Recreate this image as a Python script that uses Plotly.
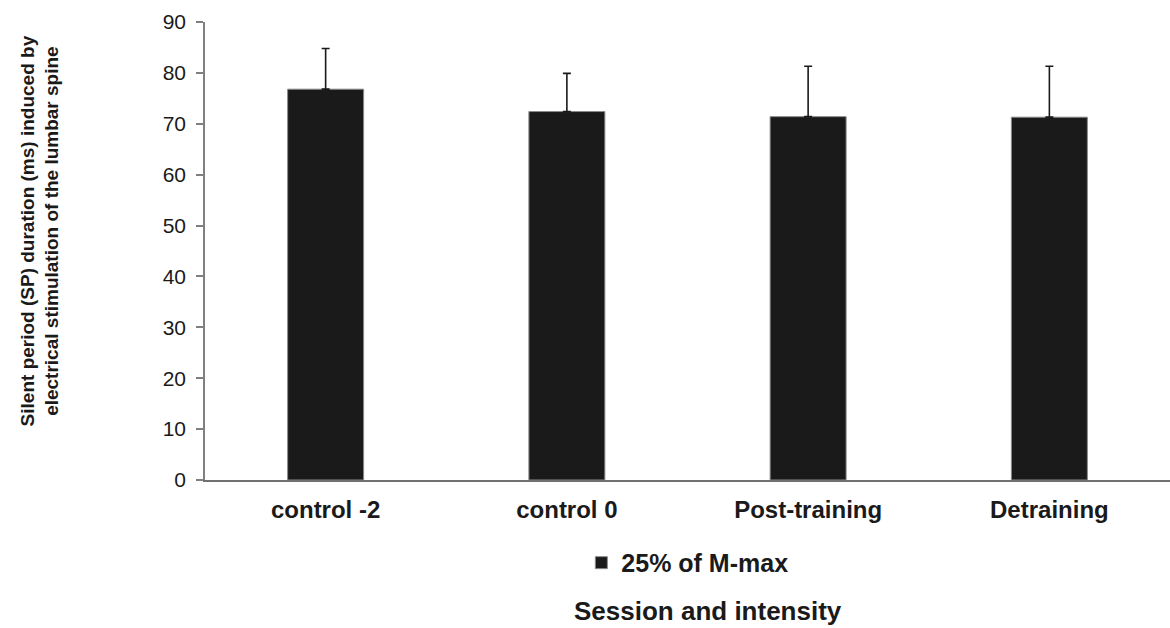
import plotly.graph_objects as go

categories = ["control -2", "control 0", "Post-training", "Detraining"]
means = [76.8, 72.4, 71.4, 71.3]
errors = [8.0, 7.5, 9.9, 10.0]
series_name = "25% of M-max"
y_ticks = [0, 10, 20, 30, 40, 50, 60, 70, 80, 90]

fig = go.Figure()
fig.add_trace(go.Bar(
    x=categories, y=means, name=series_name,
    marker=dict(color="#1a1a1a", line=dict(color="#8a8a8a", width=1)),
    error_y=dict(type="data", array=errors, arrayminus=[0]*len(errors), symmetric=False,
                 color="#1a1a1a", thickness=1.6, width=4),
    showlegend=True,
))

font_family = "Liberation Sans, Arial, sans-serif"
fig.update_layout(
    width=1170, height=628,
    margin=dict(l=205, r=0, t=22, b=148),
    paper_bgcolor="white", plot_bgcolor="white",
    bargap=0.685,
    font=dict(family=font_family, color="#1a1a1a"),
    xaxis=dict(showline=True, linecolor="#707070", linewidth=1.5, ticks="",
               ticklabelstandoff=7,
               tickfont=dict(size=24, family=font_family, color="#1a1a1a", weight="bold"),
               showgrid=False, zeroline=False),
    yaxis=dict(range=[0, 90], tickvals=y_ticks, showline=True, linecolor="#808080", linewidth=1.5,
               ticks="outside", ticklen=7, tickcolor="#808080", tickwidth=1.5,
               ticklabelstandoff=6,
               tickfont=dict(size=21, family=font_family, color="#1a1a1a"),
               showgrid=False, zeroline=False),
    legend=dict(orientation="h", x=0.39, xanchor="left", y=-0.181, yanchor="middle",
                font=dict(size=25, family=font_family, color="#1a1a1a", weight="bold"),
                itemwidth=30),
    annotations=[
        dict(text="Session and intensity", xref="paper", yref="paper", x=0.521, y=-0.286,
             xanchor="center", yanchor="middle", showarrow=False,
             font=dict(size=26, family=font_family, color="#1a1a1a", weight="bold")),
        dict(text="Silent period (SP) duration (ms) induced by<br>electrical stimulation of the lumbar spine",
             xref="paper", yref="paper", x=-0.171, y=0.545, xanchor="center", yanchor="middle",
             textangle=-90, showarrow=False,
             font=dict(size=19, family=font_family, color="#1a1a1a", weight="bold")),
    ],
)

fig.write_html("out.html")
